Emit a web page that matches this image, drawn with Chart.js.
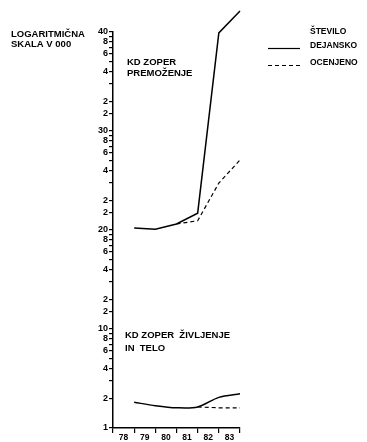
<!DOCTYPE html>
<html>
<head>
<meta charset="utf-8">
<script src="https://cdn.jsdelivr.net/npm/chart.js@4.4.1/dist/chart.umd.min.js"></script>
<style>
  html, body { margin: 0; padding: 0; background: #fff; }
  canvas { display: block; }
</style>
</head>
<body>
<canvas id="crimeChart" width="367" height="442"></canvas>
<script>
// Years on the x axis (values are plotted at the end of each year)
const years = ['78', '79', '80', '81', '82', '83'];

// KD zoper premoženje
const premozenjeDejansko = [105, 102, 115, 148, 9800, 16300];
const premozenjeOcenjeno = [null, null, 115, 124, 298, 509];

// KD zoper življenje in telo
const zivljenjeDejansko = [1.82, 1.68, 1.6, 1.63, 2.04, 2.22];
const zivljenjeOcenjeno = [null, null, null, 1.63, 1.6, 1.6];

// Tick labels on the log axis
const decadeLabels = ['1', '10', '20', '30', '40'];
const cycleLabels = [2, 4, 6, 8];

const FONT = '"Liberation Sans", Arial, sans-serif';

function toPoints(arr) {
    return arr.map((v, i) => ({ x: i + 1, y: v }));
}

// Extra texts and the small legend in the top right
const annotations = {
    id: 'annotations',
    afterDraw(chart) {
        const c = chart.ctx;
        c.save();
        c.fillStyle = '#000';
        c.textBaseline = 'alphabetic';
        c.textAlign = 'left';

        c.font = 'bold 9.5px ' + FONT;
        c.fillText('LOGARITMIČNA', 11, 37);
        c.fillText('SKALA V 000', 11, 47);

        c.font = 'bold 9.5px ' + FONT;
        c.fillText('KD ZOPER', 127, 65);
        c.fillText('PREMOŽENJE', 127, 76);
        c.fillText('KD ZOPER  ŽIVLJENJE', 125, 338);
        c.fillText('IN  TELO', 125, 351);

        // legend
        c.font = 'bold 8.5px ' + FONT;
        c.fillText('ŠTEVILO', 310, 34);
        c.fillText(chart.data.datasets[0].label, 310, 48);
        c.fillText(chart.data.datasets[1].label, 310, 65);
        c.strokeStyle = '#000';
        c.lineWidth = 1.2;
        c.beginPath();
        c.moveTo(268, 48.5);
        c.lineTo(300, 48.5);
        c.stroke();
        c.setLineDash([4, 3]);
        c.beginPath();
        c.moveTo(268, 65.5);
        c.lineTo(300, 65.5);
        c.stroke();
        c.restore();
    }
};

const solid = { borderColor: '#000', borderWidth: 1.5, pointRadius: 0, fill: false, clip: false };
const dashed = { borderColor: '#000', borderWidth: 1.2, borderDash: [4, 3], pointRadius: 0, fill: false, clip: false };

new Chart(document.getElementById('crimeChart'), {
    type: 'line',
    data: {
        datasets: [
            Object.assign({ label: 'DEJANSKO', data: toPoints(premozenjeDejansko), tension: 0 }, solid),
            Object.assign({ label: 'OCENJENO', data: toPoints(premozenjeOcenjeno), tension: 0 }, dashed),
            Object.assign({ label: 'DEJANSKO', data: toPoints(zivljenjeDejansko), tension: 0.3 }, solid),
            Object.assign({ label: 'OCENJENO', data: toPoints(zivljenjeOcenjeno), tension: 0 }, dashed)
        ]
    },
    options: {
        responsive: false,
        animation: false,
        devicePixelRatio: 1,
        layout: { padding: { top: 32, right: 127, bottom: 0, left: 0 } },
        plugins: { legend: { display: false }, tooltip: { enabled: false } },
        scales: {
            x: {
                type: 'linear',
                min: 0,
                max: 6,
                afterFit: s => { s.height = 14; },
                afterBuildTicks: s => {
                    const t = [];
                    for (let v = 0; v <= 6; v += 0.5) t.push({ value: v });
                    s.ticks = t;
                },
                ticks: {
                    autoSkip: false,
                    maxRotation: 0,
                    padding: 0,
                    color: '#000',
                    font: { family: FONT, size: 8.5, weight: 'bold' },
                    callback: v => (v % 1 === 0.5 ? years[Math.floor(v)] : '')
                },
                grid: {
                    drawOnChartArea: false,
                    tickLength: 5,
                    tickColor: ctx => (ctx.tick && ctx.tick.value % 1 === 0 ? '#000' : 'rgba(0,0,0,0)'),
                    lineWidth: 1.2
                },
                border: { display: true, color: '#000', width: 1.5 }
            },
            y: {
                type: 'logarithmic',
                min: 1,
                max: 10000,
                afterFit: s => { s.width = 113; },
                ticks: {
                    autoSkip: false,
                    padding: 1,
                    color: '#000',
                    font: { family: FONT, size: 9, weight: 'bold' },
                    callback: v => {
                        const k = Math.floor(Math.log10(v) + 1e-9);
                        const m = Math.round(v / Math.pow(10, k));
                        if (m === 1 || m === 10) return decadeLabels[m === 10 ? k + 1 : k];
                        if (cycleLabels.includes(m)) return String(m);
                        return '';
                    }
                },
                grid: {
                    drawOnChartArea: false,
                    tickLength: 4,
                    color: '#000',
                    lineWidth: 1.2
                },
                border: { display: true, color: '#000', width: 1.5 }
            }
        }
    },
    plugins: [annotations]
});
</script>
</body>
</html>
